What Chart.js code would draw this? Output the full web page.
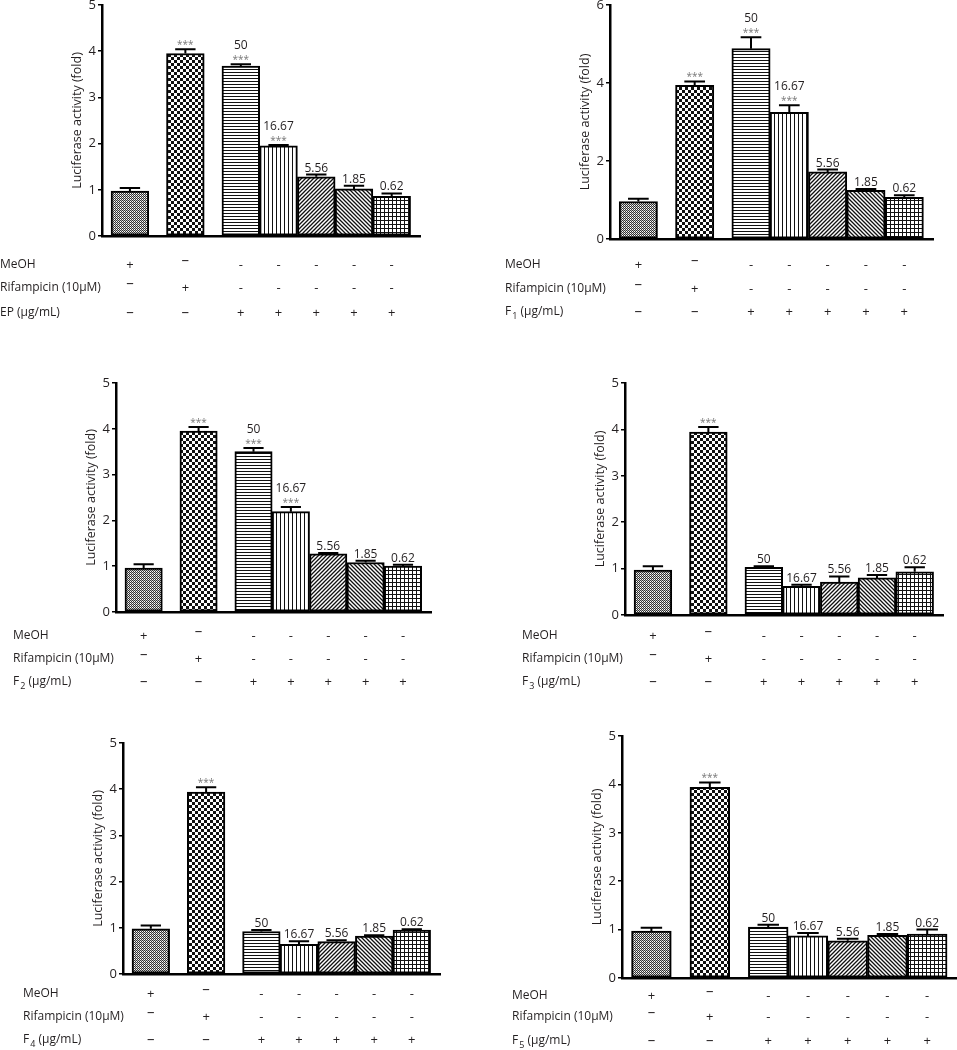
<!DOCTYPE html>
<html>
<head>
<meta charset="utf-8">
<script src="https://cdn.jsdelivr.net/npm/chart.js@4.4.0/dist/chart.umd.min.js"></script>
<style>
  body { margin: 0; background: #fff; width: 957px; height: 1050px; position: relative; overflow: hidden; }
  canvas { position: absolute; }
</style>
</head>
<body>
<canvas id="p1"></canvas>
<canvas id="p2"></canvas>
<canvas id="p3"></canvas>
<canvas id="p4"></canvas>
<canvas id="p5"></canvas>
<canvas id="p6"></canvas>
<script>
// treatments, left to right
const groups = ['MeOH', 'Rifampicin', '50', '16.67', '5.56', '1.85', '0.62'];
const doseLabels = ['', '', '50', '16.67', '5.56', '1.85', '0.62'];
const meohRow = ['+', '\u2013', '-', '-', '-', '-', '-'];
const rifRow = ['\u2013', '+', '-', '-', '-', '-', '-'];
const extractRow = ['\u2013', '\u2013', '+', '+', '+', '+', '+'];

const epMean = [0.97, 3.95, 3.68, 1.95, 1.28, 1.02, 0.86];
const epErr  = [0.07, 0.09, 0.04, 0.02, 0.05, 0.07, 0.06];
const epStars = ['', '***', '***', '***', '', '', ''];

const f1Mean = [0.96, 3.94, 4.88, 3.25, 1.72, 1.25, 1.07];
const f1Err  = [0.07, 0.10, 0.29, 0.18, 0.06, 0.03, 0.05];
const f1Stars = ['', '***', '***', '***', '', '', ''];

const f2Mean = [0.96, 3.95, 3.50, 2.19, 1.27, 1.08, 1.00];
const f2Err  = [0.08, 0.09, 0.08, 0.10, 0.02, 0.04, 0.03];
const f2Stars = ['', '***', '***', '***', '', '', ''];

const f3Mean = [0.97, 3.94, 1.03, 0.62, 0.71, 0.80, 0.93];
const f3Err  = [0.08, 0.11, 0.02, 0.03, 0.12, 0.06, 0.10];
const f3Stars = ['', '***', '', '', '', '', ''];

const f4Mean = [0.98, 3.94, 0.92, 0.64, 0.70, 0.82, 0.95];
const f4Err  = [0.07, 0.10, 0.03, 0.07, 0.03, 0.02, 0.02];
const f4Stars = ['', '***', '', '', '', '', ''];

const f5Mean = [0.97, 3.94, 1.05, 0.87, 0.77, 0.88, 0.91];
const f5Err  = [0.07, 0.10, 0.05, 0.06, 0.04, 0.03, 0.09];
const f5Stars = ['', '***', '', '', '', '', ''];

const TEXT = '#231f20';
const FONT = "'Open Sans', 'Noto Sans', sans-serif";
const Y_W = 36;
const X_MIN = -0.74, X_MAX = 7.69, GAP = 1.47;

// box = canvas [left, top, w, h]; area = chart area [left, top, right, bottom]
const panels = [
  { id: 'p1', mean: epMean, err: epErr, stars: epStars, extract: ['EP', '', ' (\u03bcg/mL)'], yMax: 5, yStep: 1,
    box: [0, 0, 478, 325], area: [102, 5, 420, 236], tableX: 0, rowY: [265, 288, 313] },
  { id: 'p2', mean: f1Mean, err: f1Err, stars: f1Stars, extract: ['F', '1', ' (\u03bcg/mL)'], yMax: 6, yStep: 2,
    box: [478, 0, 479, 325], area: [610, 5, 933, 239], tableX: 505, rowY: [265, 289, 312] },
  { id: 'p3', mean: f2Mean, err: f2Err, stars: f2Stars, extract: ['F', '2', ' (\u03bcg/mL)'], yMax: 5, yStep: 1,
    box: [0, 330, 478, 370], area: [116, 383, 431, 612], tableX: 13, rowY: [636, 659, 682] },
  { id: 'p4', mean: f3Mean, err: f3Err, stars: f3Stars, extract: ['F', '3', ' (\u03bcg/mL)'], yMax: 5, yStep: 1,
    box: [478, 330, 479, 370], area: [625, 383, 943, 615], tableX: 522, rowY: [636, 659, 682] },
  { id: 'p5', mean: f4Mean, err: f4Err, stars: f4Stars, extract: ['F', '4', ' (\u03bcg/mL)'], yMax: 5, yStep: 1,
    box: [0, 700, 478, 350], area: [123, 743, 440, 974], tableX: 23, rowY: [994, 1017, 1040] },
  { id: 'p6', mean: f5Mean, err: f5Err, stars: f5Stars, extract: ['F', '5', ' (\u03bcg/mL)'], yMax: 5, yStep: 1,
    box: [478, 700, 479, 350], area: [622, 736, 957, 978], tableX: 512, rowY: [996, 1017, 1041] }
];

function slotPositions(n) {
  // the two controls stand apart, the five doses sit side by side
  const xs = [];
  for (let i = 0; i < n; i++) xs.push(i < 3 ? i * GAP : 2 * GAP + (i - 2));
  return xs;
}

function makePattern(kind) {
  const c = document.createElement('canvas');
  const g = c.getContext('2d');
  const size = { fine: 2, checker: 6, hlines: 3, vlines: 4, diagUp: 4, diagDown: 4, grid: 4 }[kind];
  c.width = size; c.height = size;
  g.fillStyle = '#fff';
  g.fillRect(0, 0, size, size);
  g.fillStyle = '#111';
  g.strokeStyle = '#111';
  if (kind === 'fine') {
    g.fillStyle = '#333';
    g.fillRect(0, 0, 1, 1); g.fillRect(1, 1, 1, 1);
    g.fillStyle = '#bbb';
    g.fillRect(1, 0, 1, 1);
  } else if (kind === 'checker') {
    g.fillRect(0, 0, 3, 3); g.fillRect(3, 3, 3, 3);
  } else if (kind === 'hlines') {
    g.fillRect(0, 0, size, 1);
  } else if (kind === 'vlines') {
    g.fillRect(0, 0, 1, size);
  } else if (kind === 'grid') {
    g.fillRect(0, 0, size, 1); g.fillRect(0, 0, 1, size);
  } else {
    g.lineWidth = 1.3;
    g.beginPath();
    for (let k = -1; k <= 1; k++) {
      if (kind === 'diagUp') { g.moveTo(k * size - 1, size + 1); g.lineTo(k * size + size + 1, -1); }
      else { g.moveTo(k * size - 1, -1); g.lineTo(k * size + size + 1, size + 1); }
    }
    g.stroke();
  }
  return g.createPattern(c, 'repeat');
}

const patternKinds = ['fine', 'checker', 'hlines', 'vlines', 'diagUp', 'diagDown', 'grid'];

function drawRowLabel(ctx, x, y, parts) {
  ctx.textAlign = 'left';
  ctx.textBaseline = 'middle';
  ctx.font = '12px ' + FONT;
  ctx.fillText(parts[0], x, y);
  let cx = x + ctx.measureText(parts[0]).width;
  if (parts[1]) {
    ctx.font = '9px ' + FONT;
    ctx.fillText(parts[1], cx + 1, y + 4);
    cx += ctx.measureText(parts[1]).width + 1;
    ctx.font = '12px ' + FONT;
  }
  ctx.fillText(parts[2], cx, y);
}

const decorPlugin = {
  id: 'decor',
  afterDatasetsDraw(chart, args, opts) {
    const ctx = chart.ctx;
    const y = chart.scales.y;
    const bars = chart.getDatasetMeta(0).data;
    ctx.save();
    bars.forEach((bar, i) => {
      const top = y.getPixelForValue(opts.mean[i] + opts.err[i]);
      const half = bar.width * 0.27;
      ctx.strokeStyle = '#000';
      ctx.lineWidth = 2;
      ctx.beginPath();
      ctx.moveTo(bar.x, bar.y);
      ctx.lineTo(bar.x, top);
      ctx.moveTo(bar.x - half, top);
      ctx.lineTo(bar.x + half, top);
      ctx.stroke();

      ctx.textAlign = 'center';
      ctx.textBaseline = 'alphabetic';
      let labelBase = top - 3;
      if (opts.stars[i]) {
        ctx.font = '10px ' + FONT;
        ctx.fillStyle = '#777';
        ctx.fillText(opts.stars[i], bar.x, top - 1);
        labelBase = top - 15;
      }
      if (doseLabels[i]) {
        ctx.font = '12px ' + FONT;
        ctx.fillStyle = TEXT;
        ctx.fillText(doseLabels[i], bar.x, labelBase);
      }
    });
    ctx.restore();
  },
  afterDraw(chart, args, opts) {
    const ctx = chart.ctx;
    const bars = chart.getDatasetMeta(0).data;
    const rows = [meohRow, rifRow, extractRow];
    const names = [['MeOH', '', ''], ['Rifampicin (10\u03bcM)', '', ''], opts.extract];
    ctx.save();
    ctx.fillStyle = TEXT;
    rows.forEach((row, r) => {
      const ry = opts.rowY[r] - opts.top;
      drawRowLabel(ctx, opts.tableX - opts.left, ry, names[r]);
      ctx.textAlign = 'center';
      ctx.textBaseline = 'middle';
      row.forEach((sign, i) => {
        ctx.font = (sign === '\u2013' ? '15px ' : '13px ') + FONT;
        // the dashes of the two control rows sit a little high
        const lift = (sign === '\u2013' && r < 2) ? 4 : 0;
        ctx.fillText(sign, bars[i].x, ry - lift);
      });
    });
    ctx.restore();
  }
};

panels.forEach(p => {
  const [bl, bt, bw, bh] = p.box;
  const [al, at, ar, ab] = p.area;
  const canvas = document.getElementById(p.id);
  canvas.width = bw; canvas.height = bh;
  canvas.style.left = bl + 'px';
  canvas.style.top = bt + 'px';
  const xs = slotPositions(p.mean.length);
  const xHeight = bt + bh - ab;

  new Chart(canvas.getContext('2d'), {
    type: 'bar',
    data: {
      labels: groups,
      datasets: [{
        data: p.mean.map((v, i) => ({ x: xs[i], y: v })),
        backgroundColor: patternKinds.map(makePattern),
        borderColor: '#000',
        borderWidth: 2,
        borderSkipped: false,
        barPercentage: 1,
        categoryPercentage: 1
      }]
    },
    plugins: [decorPlugin],
    options: {
      responsive: false,
      animation: false,
      events: [],
      layout: { padding: { left: al - bl - Y_W, top: at - bt, right: bl + bw - ar, bottom: 0 } },
      plugins: {
        legend: { display: false },
        tooltip: { enabled: false },
        decor: {
          mean: p.mean, err: p.err, stars: p.stars, extract: p.extract,
          tableX: p.tableX, rowY: p.rowY, left: bl, top: bt
        }
      },
      scales: {
        x: {
          type: 'linear',
          min: X_MIN, max: X_MAX,
          offset: false,
          ticks: { display: false, stepSize: 1, includeBounds: false },
          grid: { display: false },
          border: { display: true, color: '#000', width: 2.5 },
          afterFit: s => { s.height = xHeight; s.paddingLeft = 0; s.paddingRight = 0; }
        },
        y: {
          min: 0, max: p.yMax,
          ticks: { stepSize: p.yStep, color: TEXT, font: { family: FONT, size: 13 }, padding: 2 },
          grid: { display: true, drawOnChartArea: false, drawTicks: true, tickLength: 4, color: '#000', lineWidth: 1.5 },
          border: { display: true, color: '#000', width: 2.5 },
          title: { display: true, text: 'Luciferase activity (fold)', color: TEXT,
                   font: { family: FONT, size: 12.5 }, padding: { top: 4, bottom: 0 } },
          afterFit: s => { s.width = Y_W; s.paddingTop = 0; s.paddingBottom = 0; }
        }
      }
    }
  });
});
</script>
</body>
</html>
